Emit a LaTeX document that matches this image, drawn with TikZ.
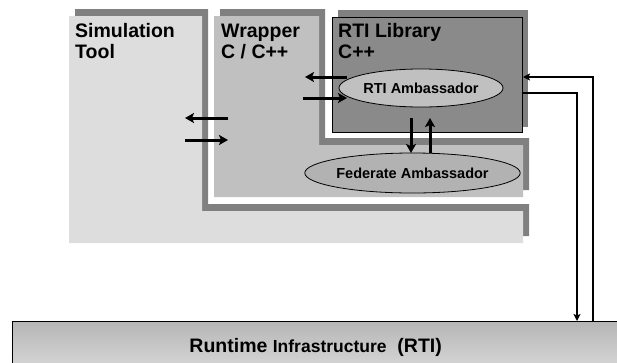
\documentclass[tikz,border=0pt]{standalone}
\usepackage{fontspec}
\setmainfont{Liberation Sans}
\usetikzlibrary{arrows.meta,shapes.geometric}
\definecolor{simgray}{RGB}{221,221,221}
\definecolor{wrapgray}{RGB}{192,192,192}
\definecolor{libgray}{RGB}{138,138,138}
\definecolor{shadegray}{RGB}{128,128,128}
\definecolor{ambgray}{RGB}{192,192,192}
\definecolor{fedgray}{RGB}{178,178,178}
\definecolor{bartop}{RGB}{182,182,182}
\definecolor{barlow}{RGB}{218,218,218}

\begin{document}
\begin{tikzpicture}[x=1pt, y=-1pt, >={Stealth[length=9pt,width=10pt,inset=2pt]},
  title/.style={anchor=north west, inner sep=0pt, align=left, font=\bfseries\fontsize{19.5}{21}\selectfont},
  amb/.style={ellipse, draw, line width=0.8pt, inner sep=0pt, font=\bfseries\fontsize{14.5}{16}\selectfont},
  flow/.style={->, line width=3pt},
  wire/.style={-{Stealth[length=7pt,width=7pt,inset=1.5pt]}, line width=1.3pt}]
  \clip (0,0) rectangle (617,362);
  % simulation tool
  \fill[shadegray, shift={(6,-7)}] (69,16) -- (202,16) -- (202,211) -- (523,211) -- (523,243) -- (69,243) -- cycle;
  \fill[simgray] (69,16) -- (202,16) -- (202,211) -- (523,211) -- (523,243) -- (69,243) -- cycle;
  % wrapper
  \fill[shadegray, shift={(6,-7)}] (214,16) -- (319,16) -- (319,145) -- (523,145) -- (523,197) -- (214,197) -- cycle;
  \fill[wrapgray] (214,16) -- (319,16) -- (319,145) -- (523,145) -- (523,197) -- (214,197) -- cycle;
  % rti library
  \fill[shadegray] (338,10) rectangle (528,127);
  \node (lib) [draw, fill=libgray, line width=0.8pt, minimum width=190pt, minimum height=115pt, inner sep=0pt, anchor=north west] at (332,17) {};

  \node (simlbl) [title] at (75,23.5) {Simulation\\Tool};
  \node (wraplbl) [title] at (221,23.5) {Wrapper\\C / C++};
  \node (liblbl) [title] at (338,23.5) {RTI Library\\C++};

  \node (rtiamb) [amb, fill=ambgray, minimum width=164pt, minimum height=38pt] at (421,88) {RTI Ambassador};
  \node (fedamb) [amb, fill=fedgray, minimum width=201pt, minimum height=40pt] at (412.5,173) {Federate Ambassador};

  \node (rti) [draw, line width=1.3pt, top color=bartop, bottom color=barlow, minimum width=606pt, minimum height=52pt,
    inner sep=0pt, anchor=north west, font=\bfseries\fontsize{19.5}{22}\selectfont] at (12,321)
    {Runtime {\fontsize{17.5}{20}\selectfont Infrastructure}\ \ (RTI)};

  % tool <-> wrapper
  \coordinate (st1) at (185,118); \coordinate (wr1) at (228,118);
  \coordinate (st2) at (185,140); \coordinate (wr2) at (228,140);
  \draw[flow] (wr1) -- (st1);
  \draw[flow] (st2) -- (wr2);
  % wrapper <-> rti ambassador
  \coordinate (wr3) at (305,77); \coordinate (ra3) at (347,77);
  \coordinate (wr4) at (303,98); \coordinate (ra4) at (347,98);
  \draw[flow] (ra3) -- (wr3);
  \draw[flow] (wr4) -- (ra4);
  % rti ambassador <-> federate ambassador
  \coordinate (ra5) at (411,118); \coordinate (fa5) at (411,153);
  \coordinate (ra6) at (430,118); \coordinate (fa6) at (430,153);
  \draw[flow] (ra5) -- (fa5);
  \draw[flow] (fa6) -- (ra6);
  % library <-> rti
  \coordinate (libout) at (522,93); \coordinate (libin) at (523,77);
  \coordinate (rtidown) at (577,321); \coordinate (rtiup) at (593,321);
  \draw[wire] (libout) -| (rtidown);
  \draw[wire] (rtiup) |- (libin);
\end{tikzpicture}
\end{document}
